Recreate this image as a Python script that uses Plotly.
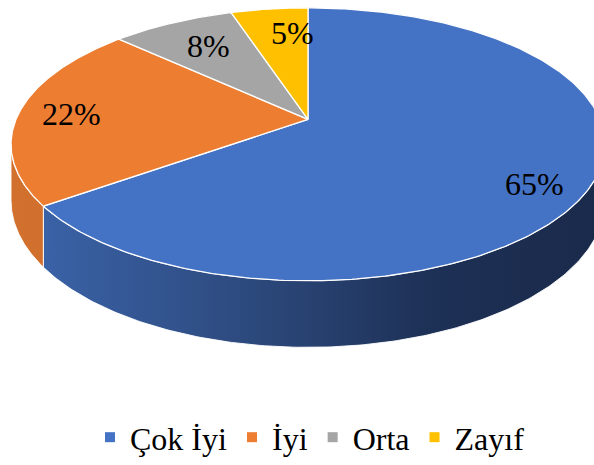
import numpy as np
import plotly.graph_objects as go

# ---- data ----
categories = ["Çok İyi", "İyi", "Orta", "Zayıf"]
values = [65, 22, 8, 5]
labels = ["65%", "22%", "8%", "5%"]

# ---- style ----
FONT = "Liberation Serif, Times New Roman, Times, serif"
top_colors = ["#4472C4", "#ED7D31", "#A5A5A5", "#FFC000"]
side_scales = [
    [[0, "#3C66AD"], [0.4, "#2D4A7E"], [0.72, "#1D3055"], [1, "#1A2A4B"]],
    [[0, "#D2702E"], [1, "#C4642A"]],
    [[0, "#8A8A8A"], [1, "#6E6E6E"]],
    [[0, "#D9A200"], [1, "#B58700"]],
]
label_shift = [(10, -15), (-11, -1), (9, -4), (16, -3)]  # pixel tweaks (x right, y up)

# projection geometry (pixel units)
W, H = 594, 465
CX, CY = 308.0, 122.0
A, B = 292.0, 134.8
K = 0.1828      # perspective
DEPTH = 55.6


def proj(phi_deg, r=1.0, z=0.0):
    phi = np.radians(phi_deg)
    X = r * np.sin(phi)
    Y = r * np.cos(phi)
    d = 1 + K * Y
    sx = CX + A * X / d
    sy = CY - B * Y / d + z * DEPTH / d
    return sx, sy


total = float(sum(values))
bounds = np.concatenate([[0], np.cumsum(values) / total * 360.0])
vis_lo = np.degrees(np.arccos(-K))
vis_hi = 360.0 - vis_lo

fig = go.Figure()

# sides (visible front arc)
for i in range(len(values)):
    a, b = bounds[i], bounds[i + 1]
    lo, hi = max(a, vis_lo), min(b, vis_hi)
    if hi <= lo:
        continue
    ph = np.linspace(lo, hi, 200)
    tx, ty = proj(ph)
    bx, by = proj(ph[::-1], z=1.0)
    xs = np.concatenate([tx, bx, tx[:1]])
    ys = np.concatenate([ty, by, ty[:1]])
    fig.add_trace(go.Scatter(
        x=xs, y=ys, mode="lines", fill="toself",
        fillgradient=dict(type="horizontal", colorscale=side_scales[i],
                          start=10, stop=600),
        line=dict(color="rgba(255,255,255,0.9)", width=1),
        hoverinfo="skip", showlegend=False))

# top faces
for i in range(len(values)):
    a, b = bounds[i], bounds[i + 1]
    ph = np.linspace(a, b, 300)
    ax_, ay_ = proj(ph)
    xs = np.concatenate([[CX], ax_, [CX]])
    ys = np.concatenate([[CY], ay_, [CY]])
    fig.add_trace(go.Scatter(
        x=xs, y=ys, mode="lines", fill="toself", fillcolor=top_colors[i],
        line=dict(color="white", width=1.3),
        hoverinfo="skip", showlegend=False))

# legend entries
for i, c in enumerate(categories):
    fig.add_trace(go.Scatter(
        x=[None], y=[None], mode="markers", name=c,
        marker=dict(symbol="square", size=10, color=top_colors[i])))

# labels
annotations = []
for i in range(len(values)):
    mid = (bounds[i] + bounds[i + 1]) / 2
    lx, ly = proj(mid, r=0.78)
    annotations.append(dict(
        x=lx, y=ly, xref="x", yref="y", text=labels[i], showarrow=False,
        xshift=label_shift[i][0], yshift=label_shift[i][1],
        font=dict(family=FONT, size=32, color="black")))

fig.update_layout(
    width=W, height=H,
    margin=dict(l=0, r=0, t=0, b=0),
    paper_bgcolor="white", plot_bgcolor="white",
    xaxis=dict(range=[0, W], visible=False, fixedrange=True),
    yaxis=dict(range=[H, 0], visible=False, fixedrange=True),
    annotations=annotations,
    showlegend=True,
    legend=dict(orientation="h", x=(W / 2 + 13) / W, xanchor="center",
                y=(H - 447) / H, yanchor="middle",
                font=dict(family=FONT, size=32, color="black"),
                bgcolor="rgba(0,0,0,0)"),
)

fig.write_html(
    "out.html",
    config={"displayModeBar": False},
    post_script="document.body.style.margin='0';document.body.style.overflow='hidden';",
)
